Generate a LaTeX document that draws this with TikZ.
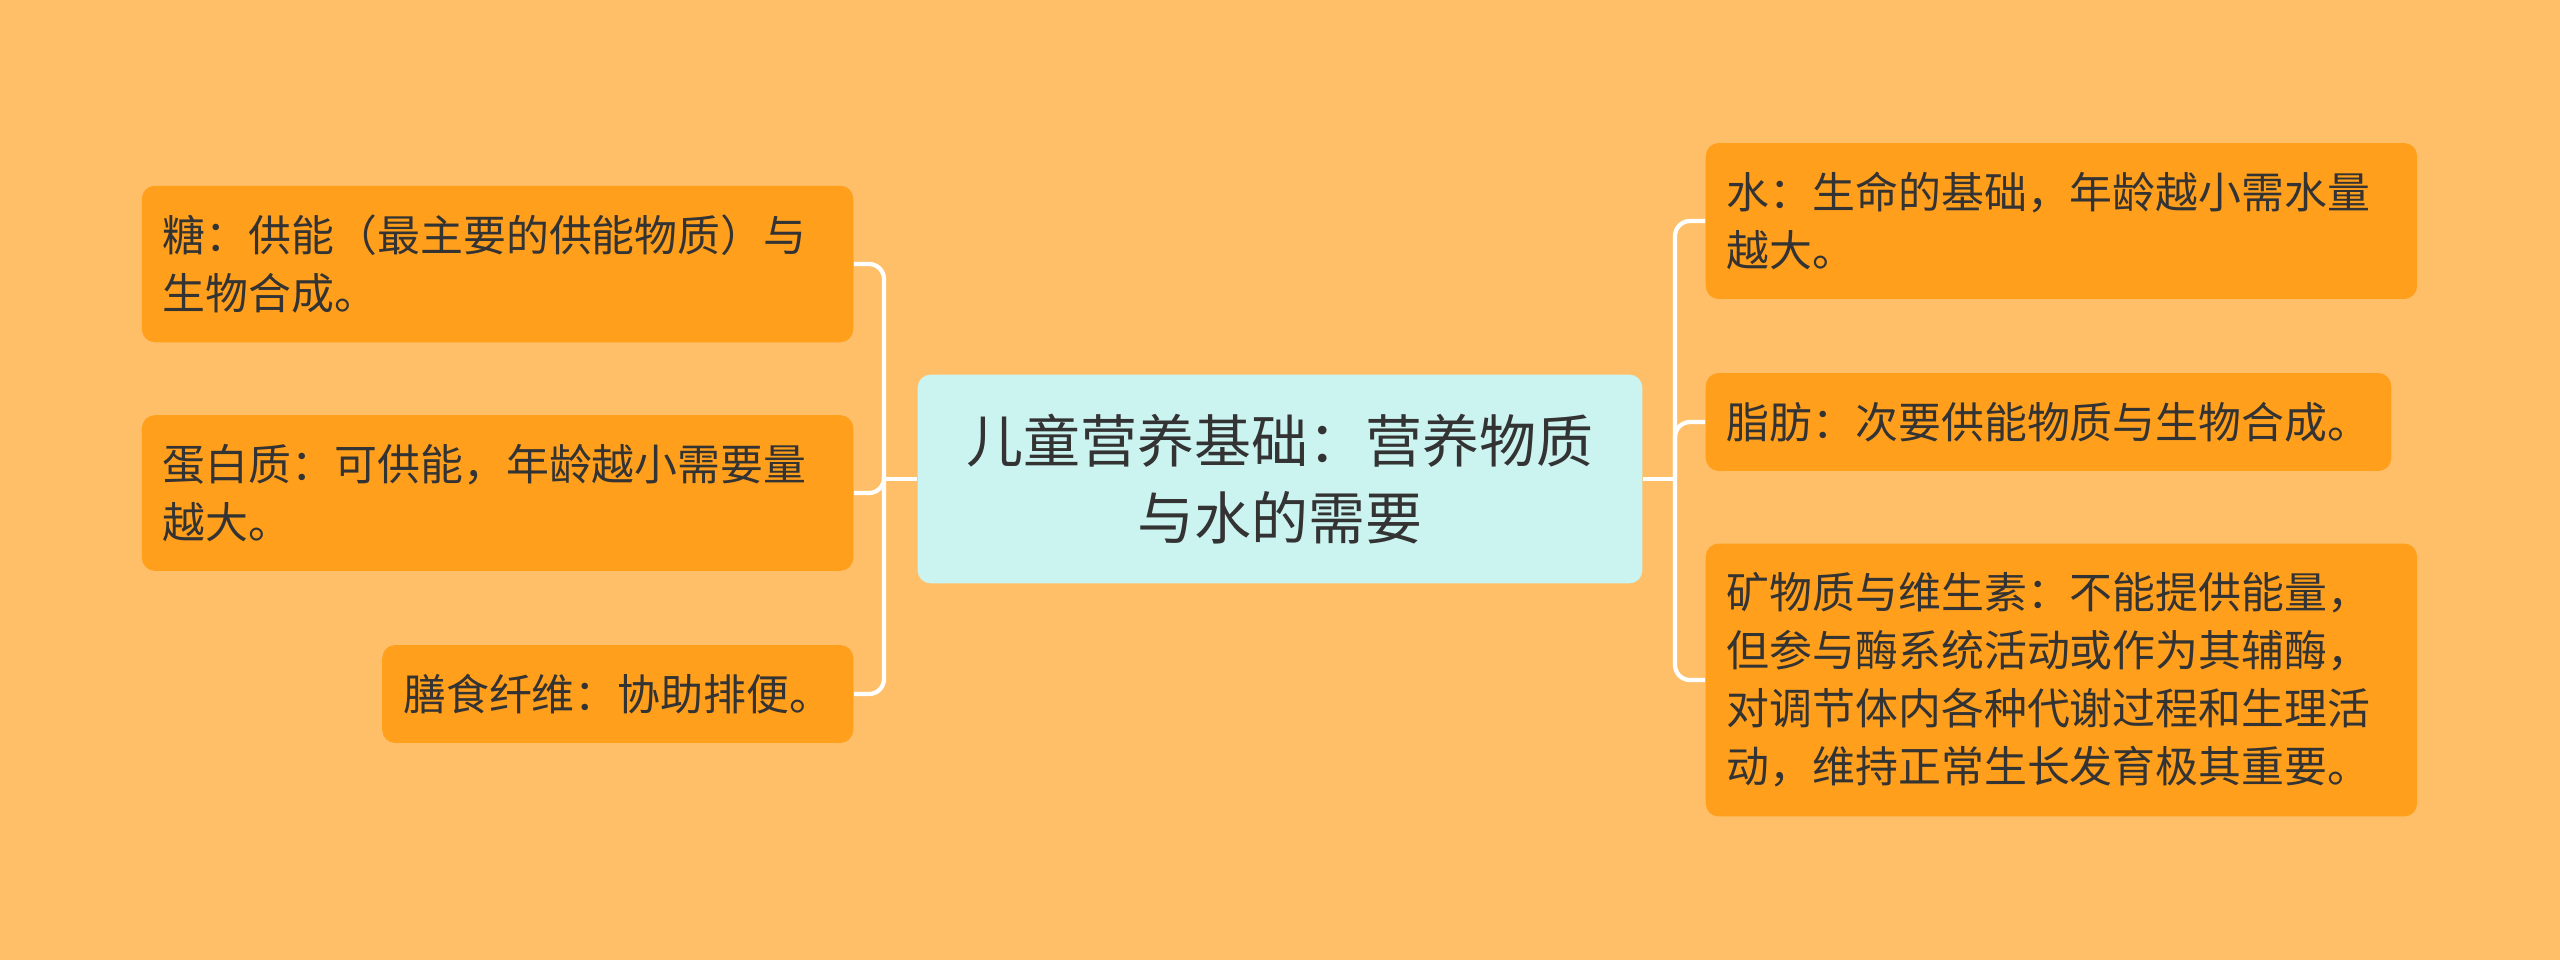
\documentclass[tikz,border=0pt]{standalone}
\usepackage{fontspec}
\setmainfont{Noto Sans CJK SC}
\definecolor{bgorange}{HTML}{FFBF69}
\definecolor{leaforange}{HTML}{FF9F1C}
\definecolor{rootcyan}{HTML}{CBF3F0}
\definecolor{textgray}{HTML}{333333}

\begin{document}
\begin{tikzpicture}[
  x=0.01cm, y=-0.01cm,
  every node/.style = {text=textgray, rounded corners=0.13cm, inner xsep=0.21cm, inner ysep=0.29cm},
  root/.style = {fill=rootcyan, align=center, font=\fontsize{16.2pt}{22.1pt}\selectfont, inner xsep=0.49cm, inner ysep=0.39cm},
  leaf/.style = {fill=leaforange, align=left, font=\fontsize{12.2pt}{16.5pt}\selectfont},
  wideleaf/.style = {leaf, text width=6.69cm},
  link/.style = {draw=white, line width=1.2pt, rounded corners=0.15cm}]
  \fill[bgorange] (0,0) rectangle (2560,960);
  \node[root] (main) at (1280,479) {儿童营养基础：营养物质\\与水的需要};
  \node[wideleaf, anchor=east] (tang) at (854,264) {糖：供能（最主要的供能物质）与\\生物合成。};
  \node[wideleaf, anchor=east] (danbai) at (854,493) {蛋白质：可供能，年龄越小需要量\\越大。};
  \node[leaf, anchor=east] (xianwei) at (854,694) {膳食纤维：协助排便。};
  \node[wideleaf, anchor=west] (shui) at (1705,221) {水：生命的基础，年龄越小需水量\\越大。};
  \node[leaf, anchor=west] (zhifang) at (1705,422) {脂肪：次要供能物质与生物合成。};
  \node[wideleaf, anchor=west] (kuangwu) at (1705,680) {矿物质与维生素：不能提供能量，\\但参与酶系统活动或作为其辅酶，\\对调节体内各种代谢过程和生理活\\动，维持正常生长发育极其重要。};
  \coordinate (lhub) at (884,479);
  \coordinate (rhub) at (1675,479);
  \draw[link] (main.west) -- (lhub);
  \draw[link] (lhub) |- (tang.east);
  \draw[link] (lhub) |- (danbai.east);
  \draw[link] (lhub) |- (xianwei.east);
  \draw[link] (main.east) -- (rhub);
  \draw[link] (rhub) |- (shui.west);
  \draw[link] (rhub) |- (zhifang.west);
  \draw[link] (rhub) |- (kuangwu.west);
\end{tikzpicture}
\end{document}
